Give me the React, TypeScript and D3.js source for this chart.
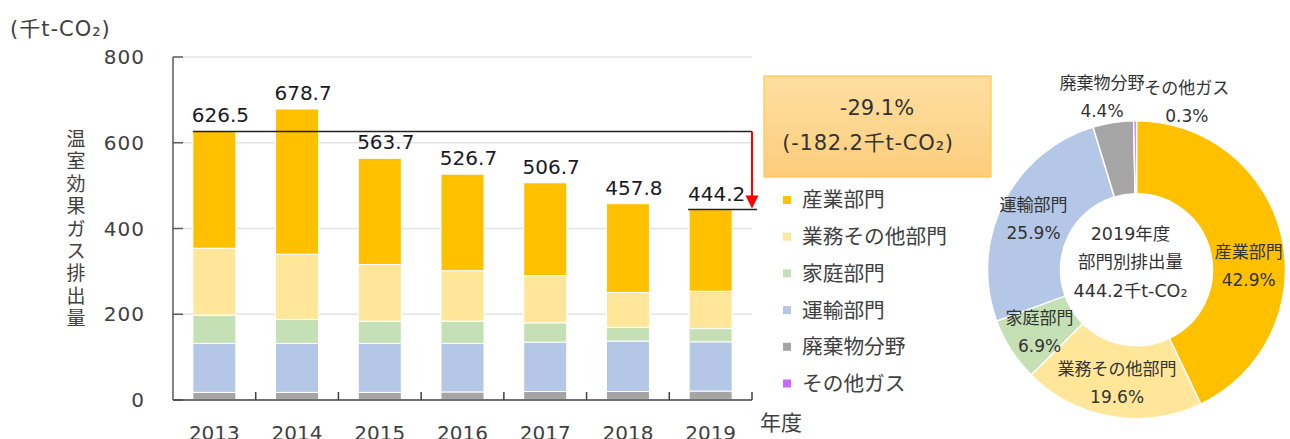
import React from "react";
import * as d3 from "d3";

const years = ["2013", "2014", "2015", "2016", "2017", "2018", "2019"];
const sectors = ["産業部門", "業務その他部門", "家庭部門", "運輸部門", "廃棄物分野", "その他ガス"];
const industry = [272.5, 338.7, 247.7, 225.1, 216.7, 206.8, 190.6];
const business = [156.0, 152.0, 132.0, 117.6, 110.0, 81.4, 87.1];
const household = [66.0, 56.0, 52.0, 52.0, 45.0, 32.0, 30.7];
const transport = [114.2, 114.2, 114.2, 113.2, 115.2, 117.8, 115.0];
const waste = [16.5, 16.5, 16.5, 17.5, 18.5, 18.5, 19.5];
const otherGas = [1.3, 1.3, 1.3, 1.3, 1.3, 1.3, 1.3];
const totals = [626.5, 678.7, 563.7, 526.7, 506.7, 457.8, 444.2];
const yTicks = [0, 200, 400, 600, 800];
const pieShares = [42.9, 19.6, 6.9, 25.9, 4.4, 0.3];
const changePct = "-29.1%";
const changeAbs = "(-182.2千t-CO₂)";
const centerLines = ["2019年度", "部門別排出量", "444.2千t-CO₂"];
const yTitle = "温室効果ガス排出量";
const unitLabel = "(千t-CO₂)";
const xTitle = "年度";

const colors = ["#FFC000", "#FFE699", "#C5E0B4", "#B4C7E7", "#A5A5A5", "#CC66FF"];
const FONT = "'DejaVu Sans', 'Noto Sans CJK JP', sans-serif";

export default function App() {
  const W = 1290, H = 439;
  const y = d3.scaleLinear().domain([0, 800]).range([400, 57]);
  const x = d3.scaleBand().domain(years).range([173, 752]).paddingInner(0.48).paddingOuter(0.24);
  const seriesData = [otherGas, waste, transport, household, business, industry];
  const seriesColors = [colors[5], colors[4], colors[3], colors[2], colors[1], colors[0]];
  const rows = years.map((yr, i) => {
    const r: any = { year: yr };
    seriesData.forEach((s, k) => (r["k" + k] = s[i]));
    return r;
  });
  const stack = d3.stack().keys(seriesData.map((_, k) => "k" + k))(rows);
  const bw = x.bandwidth();
  const step = x.step();

  const firstIdx = 0, lastIdx = years.length - 1;
  const refY = y(totals[firstIdx]);
  const endY = y(totals[lastIdx]);
  const arrowX = 752;

  // pie
  const cx = 1136.5, cy = 269.7, rOut = 149, rIn = 76;
  const pie = d3.pie<number>().sort(null).value((d) => d)(pieShares);
  const arc = d3.arc<any>().innerRadius(rIn).outerRadius(rOut);

  return (
    <svg width={W} height={H} style={{ position: "absolute", left: 0, top: 0, fontFamily: FONT }}>
      <rect x={0} y={0} width={W} height={H} fill="#fff" />
      {/* unit */}
      <text x={10} y={28} dy="0.36em" fontSize={21} letterSpacing={1} fill="#404040">{unitLabel}</text>
      {/* gridlines */}
      {yTicks.filter((t) => t > 0).map((t) => (
        <line key={t} x1={183} x2={752} y1={y(t)} y2={y(t)} stroke="#e4e4e4" strokeWidth={1.5} />
      ))}
      {/* bars */}
      {stack.map((layer, k) => (
        <g key={k} fill={seriesColors[k]}>
          {layer.map((d, i) => (
            <rect key={i} x={x(years[i])} y={y(d[1])} width={bw} height={Math.max(0, y(d[0]) - y(d[1]))}
              stroke="#fff" strokeWidth={1} />
          ))}
        </g>
      ))}
      {/* axes */}
      <line x1={173} x2={173} y1={y(800)} y2={y(0)} stroke="#595959" strokeWidth={1.5} />
      {yTicks.map((t) => (
        <g key={t}>
          <line x1={173} x2={183} y1={y(t)} y2={y(t)} stroke="#595959" strokeWidth={1.5} />
          <text x={145} y={y(t)} dy="0.36em" textAnchor="end" fontSize={20} letterSpacing={1} fill="#404040">{t}</text>
        </g>
      ))}
      <line x1={173} x2={752} y1={y(0)} y2={y(0)} stroke="#404040" strokeWidth={1.5} />
      {years.map((yr, i) => (
        <g key={yr}>
          <line x1={173 + (i + 1) * step} x2={173 + (i + 1) * step} y1={392} y2={400} stroke="#404040" strokeWidth={1.5} />
          <text x={(x(yr) as number) + bw / 2} y={440} textAnchor="middle" fontSize={20} fill="#404040">{yr}</text>
        </g>
      ))}
      {/* y title */}
      <text fontSize={19} fill="#404040" textAnchor="middle">
        {Array.from(yTitle).map((c, i) => (
          <tspan key={i} x={76} y={146 + i * 22.4}>{c}</tspan>
        ))}
      </text>
      {/* value labels */}
      {totals.map((t, i) => (
        <text key={i} x={(x(years[i]) as number) + bw / 2 + 6} y={y(t) - 9} textAnchor="middle" fontSize={20} fill="#1a1a24">
          {t.toFixed(1)}
        </text>
      ))}
      {/* reference lines & arrow */}
      <line x1={x(years[firstIdx])} x2={arrowX} y1={refY} y2={refY} stroke="#222" strokeWidth={1.5} />
      <line x1={(x(years[lastIdx]) as number) - 1} x2={arrowX + 5} y1={endY} y2={endY} stroke="#222" strokeWidth={1.5} />
      <line x1={arrowX} x2={arrowX} y1={refY} y2={endY - 12} stroke="#FF0000" strokeWidth={2} />
      <path d={`M${arrowX - 6.5},${endY - 14} L${arrowX + 6.5},${endY - 14} L${arrowX},${endY - 1} Z`} fill="#FF0000" />
      <text x={760} y={422} dy="0.36em" fontSize={21} fill="#404040">{xTitle}</text>
      {/* annotation box */}
      <defs>
        <linearGradient id="boxg" x1="0" y1="0" x2="0" y2="1">
          <stop offset="0" stopColor="#FFDFA2" />
          <stop offset="1" stopColor="#FCCD7C" />
        </linearGradient>
      </defs>
      <rect x={764} y={76} width={227} height={101} fill="url(#boxg)" stroke="#FFC94D" strokeWidth={1.2} />
      <text x={877} y={107} dy="0.36em" textAnchor="middle" fontSize={21} fill="#333">{changePct}</text>
      <text x={868} y={142} dy="0.36em" textAnchor="middle" fontSize={21} letterSpacing={0.8} fill="#333">{changeAbs}</text>
      {/* legend */}
      {sectors.map((s, i) => (
        <g key={s}>
          <rect x={783} y={200 + i * 36.7 - 4} width={8} height={8} fill={colors[i]} />
          <text x={802} y={200 + i * 36.7} dy="0.36em" fontSize={20.7} fill="#404040">{s}</text>
        </g>
      ))}
      {/* donut */}
      <g transform={`translate(${cx},${cy})`}>
        {pie.map((p, i) => (
          <path key={i} d={arc(p) as string} fill={colors[i]} stroke="#fff" strokeWidth={1.5} />
        ))}
        {pie.map((p, i) => {
          const mid = (p.startAngle + p.endAngle) / 2;
          const small = pieShares[i] < 5;
          const r = small ? 176 : 115;
          let lx = r * Math.sin(mid);
          let ly = -r * Math.cos(mid);
          if (small && i === pie.length - 1) { lx += 52; ly += 8; }
          else if (small) { lx -= 7; ly += 1; }
          if (i === 0) ly += 22;
          return (
            <g key={"l" + i} fontSize={17} fill="#333" textAnchor="middle">
              <text x={lx} y={ly - 14} dy="0.36em">{sectors[i]}</text>
              <text x={lx} y={ly + 14} dy="0.36em">{pieShares[i].toFixed(1)}%</text>
            </g>
          );
        })}
        {centerLines.map((c, i) => (
          <text key={c} x={-6} y={-36 + i * 28.3} dy="0.36em" textAnchor="middle" fontSize={17.5} fill="#333">{c}</text>
        ))}
      </g>
    </svg>
  );
}
